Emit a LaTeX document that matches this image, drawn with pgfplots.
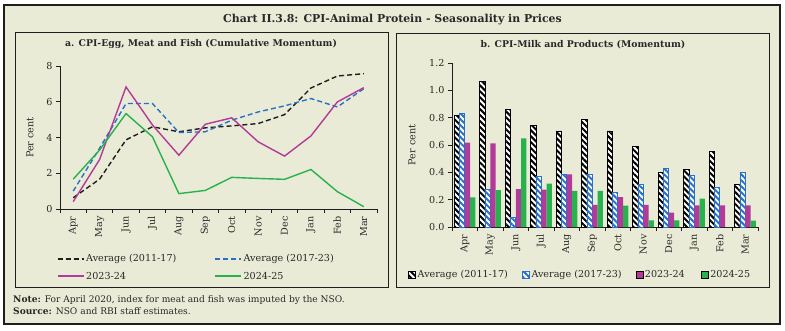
\documentclass[border=0pt]{standalone}
\usepackage{fontspec}
\setmainfont{DejaVu Serif}
\usepackage{pgfplots}
\pgfplotsset{compat=1.18}
\usepackage{pgfplotstable}
\usetikzlibrary{patterns.meta}

\definecolor{bg}{RGB}{233,235,214}
\definecolor{mag}{RGB}{178,58,152}
\definecolor{grn}{RGB}{40,178,78}
\definecolor{blu}{RGB}{40,112,200}
\definecolor{dk}{RGB}{30,30,30}
\definecolor{txt}{RGB}{40,40,40}

\pgfplotstableread{
m  a1117 a1723 y2324 y2425
0  0.63  1.00  0.41  1.67
1  1.67  3.40  2.77  3.30
2  3.87  5.90  6.83  5.34
3  4.60  5.90  4.70  4.04
4  4.32  4.28  3.01  0.86
5  4.54  4.32  4.74  1.04
6  4.65  4.97  5.10  1.77
7  4.78  5.43  3.76  1.71
8  5.28  5.77  2.96  1.66
9  6.77  6.18  4.09  2.21
10 7.44  5.71  5.99  0.97
11 7.57  6.73  6.79  0.13
}\linedata

\pgfplotstableread{
m  a1117 a1723 y2324 y2425
0  0.813 0.828 0.617 0.216
1  1.068 0.274 0.612 0.269
2  0.857 0.073 0.277 0.649
3  0.745 0.370 0.274 0.318
4  0.703 0.387 0.385 0.265
5  0.784 0.387 0.162 0.265
6  0.703 0.252 0.218 0.157
7  0.590 0.311 0.162 0.049
8  0.400 0.429 0.105 0.049
9  0.421 0.377 0.159 0.208
10 0.553 0.291 0.159 0.000
11 0.311 0.400 0.159 0.047
}\bardata

\newcommand\fs{\fontsize{9.6bp}{11bp}\selectfont}
\pgfplotsset{
  lineleg/.style={legend image code/.code={\draw[##1] (0bp,0bp) -- (26bp,0bp);}},
  sqleg/.style={legend image code/.code={\draw[##1] (0bp,-3.5bp) rectangle (7bp,3.5bp);}},
  common/.style={
    scale only axis, anchor=south west,
    xmin=-0.5, xmax=11.5,
    axis x line=bottom, axis y line=left,
    axis line style={-, line width=0.8bp, dk},
    xtick={-0.5,0.5,...,11.5},
    x tick label as interval,
    xticklabels={Apr,May,Jun,Jul,Aug,Sep,Oct,Nov,Dec,Jan,Feb,Mar},
    xticklabel style={rotate=90, anchor=east, font=\fs, text=txt},
    yticklabel style={font=\fs, text=txt},
    tick align=outside, major tick length=4bp,
    tick style={dk, line width=0.8bp},
    /pgf/number format/assume math mode=true,
    ylabel={Per cent},
    ylabel style={font=\fs, text=txt, anchor=center},
    legend style={draw=none, fill=none, inner sep=0pt, outer sep=0pt,
      font=\fs, text=txt, cells={anchor=west},
      row sep=4.5bp},
  },
}

\begin{document}
\begin{tikzpicture}[x=1bp,y=1bp]
\useasboundingbox (0,0) rectangle (785,330);
\fill[white] (0,0) rectangle (785,330);
\filldraw[fill=bg, draw=dk, line width=2bp] (4,6) rectangle (780,325);
\draw[dk, line width=1bp] (15,43) rectangle (388,298);
\draw[dk, line width=1bp] (396,43) rectangle (769,297);

\node[font=\bfseries\fontsize{10.9bp}{12bp}\selectfont, text=txt] at (392.5,310) {Chart II.3.8: CPI-Animal Protein - Seasonality in Prices};
\node[font=\bfseries\fontsize{9.3bp}{11bp}\selectfont, text=txt] at (201,286) {a. CPI-Egg, Meat and Fish (Cumulative Momentum)};
\node[font=\bfseries\fontsize{9.3bp}{11bp}\selectfont, text=txt] at (583,285) {b. CPI-Milk and Products (Momentum)};
\node[anchor=west, font=\fontsize{9.1bp}{11bp}\selectfont, text=txt, inner sep=0pt] at (13,30) {\textbf{Note:} For April 2020, index for meat and fish was imputed by the NSO.};
\node[anchor=west, font=\fontsize{9.1bp}{11bp}\selectfont, text=txt, inner sep=0pt] at (13,18.5) {\textbf{Source:} NSO and RBI staff estimates.};

\begin{axis}[common,
  at={(60bp,121bp)}, width=317bp, height=143bp,
  ymin=0, ymax=8, ytick={0,2,4,6,8},
  ylabel style={at={(axis description cs:-0.095,0.5)}},
  legend columns=2,
  legend style={at={(-0.01,-0.305)}, anchor=north west},
]
\addplot[lineleg, dk, line width=1.4bp, dash pattern=on 5bp off 3bp] table[x=m,y=a1117] {\linedata};
\addlegendentry{\makebox[126bp][l]{Average (2011-17)}}
\addplot[lineleg, blu, line width=1.4bp, dash pattern=on 5bp off 3bp] table[x=m,y=a1723] {\linedata};
\addlegendentry{Average (2017-23)}
\addplot[lineleg, mag, line width=1.4bp] table[x=m,y=y2324] {\linedata};
\addlegendentry{\makebox[126bp][l]{2023-24}}
\addplot[lineleg, grn, line width=1.4bp] table[x=m,y=y2425] {\linedata};
\addlegendentry{2024-25}
\end{axis}

\begin{axis}[common,
  at={(452bp,103bp)}, width=306bp, height=164bp,
  ymin=0, ymax=1.2, ytick={0,0.2,0.4,0.6,0.8,1.0,1.2},
  yticklabel style={/pgf/number format/.cd, fixed, fixed zerofill, precision=1},
  ylabel style={at={(axis description cs:-0.131,0.5)}},
  ybar=0pt, bar width=5.3bp,
  legend columns=4,
  legend style={at={(-0.144,-0.293)}, anchor=west},
]
\addplot[sqleg, draw=black, line width=0.8bp, fill=white,
  postaction={pattern={Lines[angle=-45,distance=4.2bp,line width=2bp]}, pattern color=black}]
  table[x=m,y=a1117] {\bardata};
\addlegendentry{\makebox[102bp][l]{Average (2011-17)}}
\addplot[sqleg, draw=blu, line width=0.8bp, fill=white,
  postaction={pattern={Lines[angle=-45,distance=4.2bp,line width=2bp]}, pattern color=blu}]
  table[x=m,y=a1723] {\bardata};
\addlegendentry{\makebox[102bp][l]{Average (2017-23)}}
\addplot[sqleg, draw=none, fill=mag] table[x=m,y=y2324] {\bardata};
\addlegendentry{\makebox[54bp][l]{2023-24}}
\addplot[sqleg, draw=none, fill=grn] table[x=m,y=y2425] {\bardata};
\addlegendentry{2024-25}
\end{axis}
\end{tikzpicture}
\end{document}
